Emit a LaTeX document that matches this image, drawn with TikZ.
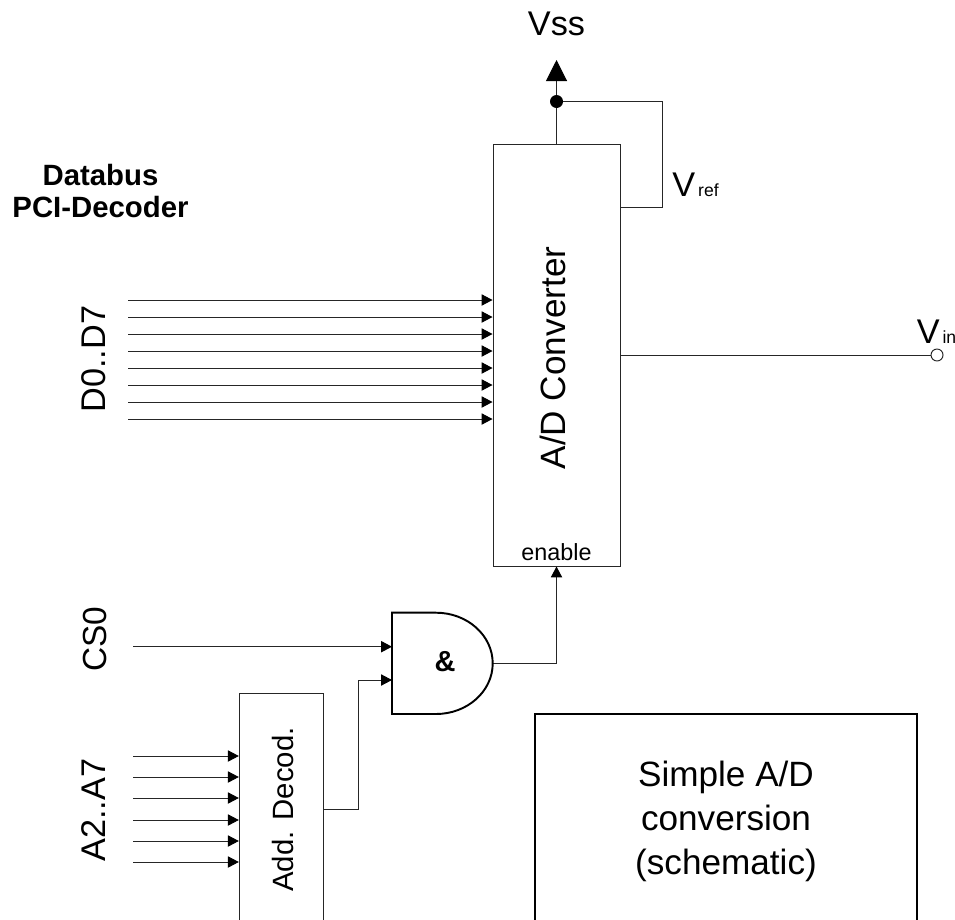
\documentclass[tikz,border=0pt]{standalone}
\usepackage{fontspec}
\setmainfont{Liberation Sans}
\usetikzlibrary{arrows.meta}

\tikzset{
	box/.style={shape=rectangle, draw=black!85, line width=0.55pt, inner sep=0pt},
	wire/.style={draw=black!85, line width=0.55pt},
	bus/.style={wire, -{Triangle[length=6.2pt,width=6.4pt,color=black]}},
	gate/.style={draw=black, line width=1.1pt, line join=miter},
	lbl/.style={inner sep=0pt, font=\fontsize{19.5}{19.5}\selectfont},
	vlbl/.style={lbl, rotate=90}
}

\begin{document}
\begin{tikzpicture}[x=0.02cm, y=-0.02cm]
		\useasboundingbox (0,0) rectangle (955,919);
		\clip (0,0) rectangle (955,919);

		\node[box, minimum width=127*0.02cm, minimum height=422*0.02cm] (ADC) at (556.5,355) {};
		\node[box, minimum width=84.4*0.02cm, minimum height=231.4*0.02cm] (DEC) at (281.5,809) {};
		\node[box, line width=1.1pt, draw=black, minimum width=382*0.02cm, minimum height=214*0.02cm, align=center, font=\fontsize{20}{25}\selectfont] (TITLE) at (726,821) {Simple A/D\\conversion\\(schematic)};

		\node[vlbl, font=\fontsize{20}{20}\selectfont] (ADCL) at (552.5,358) {A/D Converter};
		\node[inner sep=0pt, font=\fontsize{13.3}{13.3}\selectfont] (EN) at (556.5,552.5) {enable};
		\node[vlbl, font=\fontsize{16.7}{16.7}\selectfont] (DECL) at (283.5,809.5) {Add. Decod.};
		\node[lbl] (VSS) at (556.5,24) {Vss};
		\node[lbl] (VREF) at (695.5,184.5) {V{\fontsize{10}{10}\selectfont\,ref}};
		\node[lbl] (VIN) at (936.5,332) {V{\fontsize{10}{10}\selectfont\,in}};
		\node[lbl, align=center, font=\fontsize{16.7}{18.7}\selectfont\bfseries] (DB) at (100.5,191) {Databus\\PCI-Decoder};
		\node[vlbl] (DL) at (94,359) {D0..D7};
		\node[vlbl, font=\fontsize{19}{19}\selectfont] (CSL) at (95,639.5) {CS0};
		\node[vlbl] (AL) at (94,810) {A2..A7};

		\node[shape=circle, fill=black, inner sep=0pt, minimum size=13*0.02cm] (DOT) at (556.5,101.5) {};
		\node[shape=circle, draw=black!85, fill=white, line width=0.55pt, inner sep=0pt, minimum size=12*0.02cm] (VC) at (937,355) {};
		\coordinate (TIP) at (556.5,60);

		\foreach \y [count=\n] in {300,317,334,351,368,385,402,419}
		{
			\coordinate (D\n) at (128,\y);
			\draw[bus] (D\n) -- (D\n -| ADC.west);
		}
		\foreach \y [count=\n] in {756,777,798,820,841,862}
		{
			\coordinate (A\n) at (133,\y);
			\draw[bus] (A\n) -- (A\n -| DEC.west);
		}

		\coordinate (CS) at (133,646.7);
		\coordinate (GIN1) at (392,646.7);
		\coordinate (GIN2) at (392,680);
		\coordinate (GOUT) at (492.7,663);
		\draw[bus] (CS) -- (GIN1);
		\draw[bus] (DEC.east) -- ++(34,0) |- (GIN2);
		\draw[bus] (GOUT) -| (ADC.south);
		\draw[wire] (ADC.north) -- (DOT);
		\draw[wire, -{Triangle[length=12pt,width=12pt,color=black]}] (DOT) -- (TIP);
		\draw[wire] (DOT) -- ++(105.5,0) |- (ADC.east |- 0,207);
		\draw[wire] (ADC.east) -- (VC);

		% and gate
		\draw[gate] (392,612.7) -- (436,612.7) arc[start angle=-90, end angle=90, x radius=56.7, y radius=50.65] -- (392,714) -- cycle;
		\node[inner sep=0pt, font=\fontsize{16.5}{16.5}\selectfont\bfseries] (AMP) at (445,662) {\&};
	\end{tikzpicture}
\end{document}
